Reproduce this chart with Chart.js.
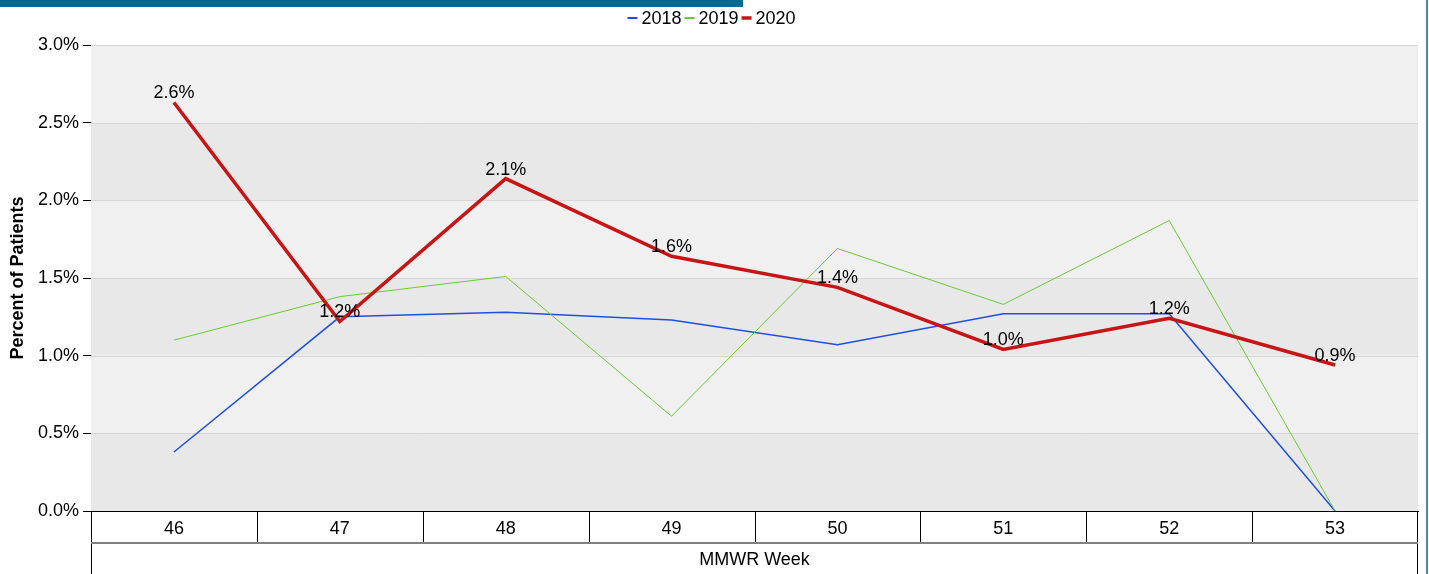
<!DOCTYPE html>
<html>
<head>
<meta charset="utf-8">
<script src="https://cdn.jsdelivr.net/npm/chart.js@4"></script>
<style>
  body { margin: 0; background: #fff; }
  #box { position: relative; width: 1429px; height: 574px; }
</style>
</head>
<body>
<div id="box"><canvas id="grafico"></canvas></div>
<script>
// semanas e valores
const semanas = ['46', '47', '48', '49', '50', '51', '52', '53'];
const serie2018 = [0.38, 1.25, 1.28, 1.23, 1.07, 1.27, 1.27, 0.0];
const serie2019 = [1.10, 1.38, 1.51, 0.61, 1.69, 1.33, 1.87, 0.0];
const serie2020 = [2.63, 1.22, 2.14, 1.64, 1.44, 1.04, 1.24, 0.94];
const anos = ['2018', '2019', '2020'];
const ticksY = [0, 0.5, 1.0, 1.5, 2.0, 2.5, 3.0];

const cores = ['#1f4fe0', '#66cc33', '#c81414'];
const larguras = [1.5, 1, 3.5];
const fonte = 'Liberation Sans, Arial, sans-serif';

// faixas de fundo, linhas da "tabela" do eixo x, legenda e rótulos
const extras = {
    id: 'extras',
    beforeDatasetsDraw(chart) {
        const { ctx, chartArea: a, scales: { y } } = chart;
        ctx.save();
        for (let i = 0; i < ticksY.length - 1; i++) {
            const y0 = y.getPixelForValue(ticksY[i]);
            const y1 = y.getPixelForValue(ticksY[i + 1]);
            ctx.fillStyle = i % 2 === 0 ? '#e8e8e8' : '#f0f0f0';
            ctx.fillRect(a.left, y1, a.right - a.left, y0 - y1);
        }
        ctx.strokeStyle = '#d6d6d6';
        ctx.lineWidth = 1;
        ticksY.slice(1).forEach(t => {
            const py = Math.round(y.getPixelForValue(t)) + 0.5;
            ctx.beginPath();
            ctx.moveTo(a.left, py);
            ctx.lineTo(a.right, py);
            ctx.stroke();
        });
        ctx.restore();
    },
    afterDatasetsDraw(chart) {
        const { ctx } = chart;
        const meta = chart.getDatasetMeta(2);
        ctx.save();
        ctx.font = '18px ' + fonte;
        ctx.fillStyle = '#000';
        ctx.textAlign = 'center';
        ctx.textBaseline = 'alphabetic';
        meta.data.forEach((p, i) => {
            ctx.fillText(serie2020[i].toFixed(1) + '%', p.x, p.y - 4);
        });
        ctx.restore();
    },
    afterDraw(chart) {
        const { ctx, chartArea: a, scales: { x } } = chart;
        ctx.save();
        // tabela abaixo do gráfico
        const passo = x.getPixelForValue(1) - x.getPixelForValue(0);
        const linhaMeio = a.bottom + 32;
        ctx.strokeStyle = '#000';
        ctx.lineWidth = 1;
        for (let i = 1; i < semanas.length; i++) {
            const px = Math.round(x.getPixelForValue(i) - passo / 2) + 0.5;
            ctx.beginPath();
            ctx.moveTo(px, a.bottom);
            ctx.lineTo(px, linhaMeio);
            ctx.stroke();
        }
        ctx.beginPath();
        ctx.moveTo(Math.round(a.left) + 0.5, a.bottom);
        ctx.lineTo(Math.round(a.left) + 0.5, chart.height);
        ctx.moveTo(Math.round(a.right) - 0.5, a.bottom);
        ctx.lineTo(Math.round(a.right) - 0.5, chart.height);
        ctx.stroke();
        ctx.strokeStyle = '#808080';
        ctx.lineWidth = 2;
        ctx.beginPath();
        ctx.moveTo(a.left, linhaMeio);
        ctx.lineTo(a.right, linhaMeio);
        ctx.stroke();

        // faixa azul do topo e borda direita
        ctx.fillStyle = '#006a94';
        ctx.fillRect(0, 0, 743, 7);
        ctx.fillStyle = '#5b80b4';
        ctx.fillRect(1426, 0, 2, chart.height);

        // legenda
        ctx.font = '18px ' + fonte;
        ctx.textBaseline = 'middle';
        ctx.textAlign = 'left';
        const traco = 10, gap = 4, fim = 3;
        let total = 0;
        anos.forEach(t => { total += traco + gap + ctx.measureText(t).width + fim; });
        let lx = 713 - total / 2;
        const ly = 18;
        anos.forEach((t, i) => {
            ctx.strokeStyle = cores[i];
            ctx.lineWidth = i === 2 ? 3.5 : 2;
            ctx.beginPath();
            ctx.moveTo(lx, ly);
            ctx.lineTo(lx + traco, ly);
            ctx.stroke();
            lx += traco + gap;
            ctx.fillStyle = '#000';
            ctx.fillText(t, lx, ly + 1);
            lx += ctx.measureText(t).width + fim;
        });
        ctx.restore();
    }
};

const series = [serie2018, serie2019, serie2020];

new Chart(document.getElementById('grafico'), {
    type: 'line',
    data: {
        labels: semanas,
        datasets: series.map((s, i) => ({
            label: anos[i],
            data: s,
            borderColor: cores[i],
            backgroundColor: cores[i],
            borderWidth: larguras[i],
            pointRadius: 0,
            tension: 0,
            fill: false,
            order: 2 - i
        }))
    },
    options: {
        responsive: true,
        maintainAspectRatio: false,
        animation: false,
        layout: { padding: { top: 45, right: 11, left: 0, bottom: 0 } },
        plugins: {
            legend: { display: false },
            tooltip: { enabled: false }
        },
        scales: {
            x: {
                offset: true,
                grid: { display: false },
                border: { color: '#000' },
                ticks: { color: '#000', font: { family: fonte, size: 18 }, padding: -1, maxRotation: 0 },
                title: {
                    display: true,
                    text: 'MMWR Week',
                    color: '#000',
                    font: { family: fonte, size: 18 },
                    padding: { top: 3, bottom: 3 }
                },
                afterFit: s => { s.height = 63; }
            },
            y: {
                min: 0,
                max: 3,
                afterBuildTicks: s => { s.ticks = ticksY.map(v => ({ value: v })); },
                grid: { drawOnChartArea: false, tickColor: '#000', tickLength: 8 },
                border: { color: '#000' },
                ticks: {
                    color: '#000',
                    font: { family: fonte, size: 18 },
                    padding: 4,
                    callback: v => v.toFixed(1) + '%'
                },
                title: {
                    display: true,
                    text: 'Percent of Patients',
                    color: '#000',
                    font: { family: fonte, size: 18, weight: 'bold' },
                    padding: { top: 7, bottom: 6 }
                },
                afterFit: s => { s.width = 91; }
            }
        }
    },
    plugins: [extras]
});
</script>
</body>
</html>
